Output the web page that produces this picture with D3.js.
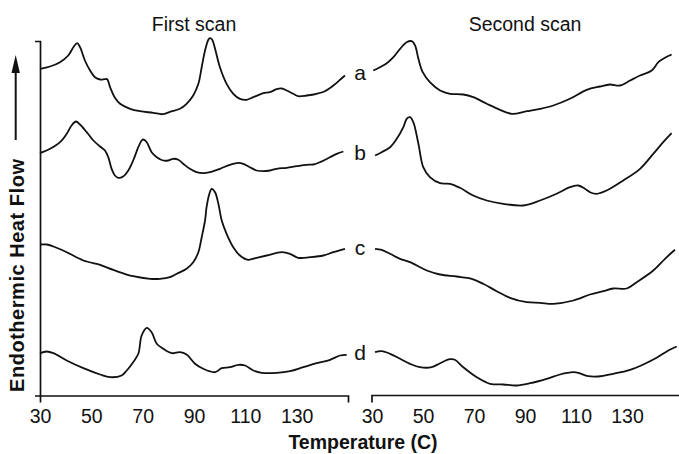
<!DOCTYPE html>
<html>
<head>
<meta charset="utf-8">
<script src="https://cdn.jsdelivr.net/npm/d3@7"></script>
<style>
  body { margin: 0; background: #fff; }
  text { font-family: "Liberation Sans", Arial, Helvetica, sans-serif; fill: #111; }
</style>
</head>
<body>
<div id="chart"></div>
<script>
// tick labels
const tickTemps = [30, 50, 70, 90, 110, 130]
const scanTitles = ["First scan", "Second scan"]
const sampleLabels = ["a", "b", "c", "d"]

// [temperature (C), heat flow (arbitrary units, stacked)]
const firstA = [[30,326.7],[33.9,329],[37.8,333.3],[41,340],[43.2,349],[44.5,352.3],[45.6,348.3],[47.5,335],[49.5,325],[51.4,318.3],[53.4,316],[55.3,316.3],[56.2,316.3],[57.3,308.3],[59.2,297.7],[61.2,291.7],[65.1,286.7],[69,284.3],[74.1,282.7],[77.8,281.3],[80.6,283.7],[84.5,286.7],[87.1,291.7],[89.7,300],[91.7,311.7],[93,328.3],[94.3,345],[95.6,355.7],[96.2,357.3],[97.1,355.7],[98.2,346.7],[100.1,328.3],[102.7,311.7],[105.3,301.7],[107.9,296.7],[110.5,295.7],[113.1,298.3],[117,302.3],[119.6,303.3],[122.2,306.3],[124.2,307],[126.1,305],[128.7,301.7],[130.6,299.3],[133.9,300],[137.8,301.7],[141,304.3],[144.3,310],[146.9,315.7],[148.8,320]]
const firstB = [[30,242.3],[33.9,246.7],[37.8,253.3],[40.4,261.7],[42.3,270],[44,274],[45.6,271],[48.2,263.3],[50.8,255],[53.4,249],[55.3,245],[56.6,238.3],[57.9,226.7],[59.2,220],[60.5,217.7],[62.4,219],[64.4,225],[66.3,235],[68.3,248.3],[69.6,255],[70.2,256],[71.6,253.3],[73.5,243.3],[75.5,238.3],[78,235],[80,235],[81.9,236.7],[83.9,235.7],[85.8,231.7],[88.4,226.7],[91,223.3],[93.6,222.3],[96.2,223.3],[100.1,226.7],[104,230.7],[107.3,232.7],[109.2,231.7],[111.8,228.3],[114.4,225],[117,224.3],[119.6,225],[122.2,226.7],[126.1,227.7],[130,229.3],[133.9,230.7],[136.5,231],[139.1,233.3],[143,238.3],[145.6,241.7],[148.2,244]]
const firstC = [[30,151],[32.6,151],[35.2,149],[40.4,143.3],[46.9,135],[53.4,130.7],[54.7,129.3],[59.9,124.3],[66.3,119.3],[72.9,116.7],[76.7,116.7],[80.6,118.3],[83.3,121.7],[87.1,126.7],[89.7,133.3],[91.7,143.3],[93,158.3],[94.3,175],[94.9,188.3],[96,201.7],[96.9,206.7],[98.2,203.3],[99.5,191.7],[100.8,175],[102.7,161.7],[105.3,148.3],[107.9,140],[111.1,135.7],[114.4,137.7],[118.3,140],[124.2,143.3],[127.4,141.7],[130.6,137.7],[135.2,138.3],[140.4,140],[144.3,143.3],[148.8,146.7]]
const firstD = [[30,42.3],[32.6,44],[35.2,42.3],[40.4,35],[46.9,27.3],[53.4,21],[57.3,18.3],[61.8,20],[63.8,25],[66.3,33.3],[68.3,41.7],[69.6,60],[71.6,67.7],[73.5,63.3],[75.5,51.7],[78,46.7],[81.3,42.3],[84.5,43.3],[87.1,41],[90.4,31.7],[93.6,26.7],[98.2,23.3],[100.8,27.3],[104,28.3],[107.3,30.7],[109.9,30],[113.1,25],[116.4,22.7],[122.2,22.7],[127.4,24.3],[132.6,28.3],[137.8,32.3],[143,35.7],[146.9,40],[149.5,40.7]]

const secondA = [[30.5,325],[33.1,328.3],[35.8,332.3],[38.4,338.3],[41,346.7],[43.6,353.3],[45.6,354.3],[46.9,350],[48.2,336.7],[49.9,323.3],[52.7,313.3],[56.7,305],[60.6,301.7],[65.8,301],[69.7,298.3],[75,291.7],[80.2,285.7],[84.8,281.7],[90.7,284.3],[95.9,286.7],[101.1,290],[107.6,296.7],[114.2,305.7],[119.4,309],[123.3,311],[127.3,310],[131.2,315],[135.1,320],[139.7,325],[142.3,333.3],[144.9,337.7],[147.5,341]]
const secondB = [[31.2,240],[33.8,243.3],[37.1,248.3],[39.7,256.7],[42.3,268.3],[43.6,276.7],[44.9,278.3],[46.2,273.3],[48.2,251.7],[50.1,228.3],[52.7,218.3],[56.7,212.3],[60.6,211.7],[64.5,207.7],[69.7,200],[75,195],[81.5,191.7],[89.3,190],[95.9,195],[102.4,201.7],[107.6,208.3],[110.9,210],[113.5,206.7],[115.5,203.3],[118.1,201.7],[122,205],[128.5,215],[135.1,226.7],[140.3,241.7],[144.2,253.3],[147.5,262.3]]
const secondC = [[31.2,146.7],[33.8,145.7],[37.1,141.7],[41,136.7],[44.9,133.3],[51.5,125],[56.7,121],[63.2,119],[69.1,116.7],[73.6,111.7],[78.9,104.3],[84.1,97.7],[90.7,93.3],[95.9,92.7],[101.1,91.7],[109,95],[115.5,101],[120.7,104.3],[124.6,107],[129.9,107],[133.8,113.3],[140.3,125],[144.9,136.7],[148.8,145.7]]
const secondD = [[31.2,43.3],[33.8,44.3],[37.1,41.7],[41,36.7],[44.9,31.7],[48.8,28.3],[53.4,28.3],[56.7,32.3],[60.6,36.3],[62.5,35.7],[65.8,28.3],[71.1,18.3],[76.3,11.7],[81.5,11],[86.7,10],[92,12.3],[98.5,16.7],[103.7,21],[108.9,23.3],[110.9,22.7],[114.8,19.3],[118.7,19],[124.6,21.7],[131.2,25.7],[136.4,31],[141.6,37.7],[146.2,45],[149.5,49]]

const firstScan = [firstA, firstB, firstC, firstD]
const secondScan = [secondA, secondB, secondC, secondD]

const width = 679
const height = 454

const svg = d3.select("#chart")
  .append("svg")
    .attr("width", width)
    .attr("height", height)

// scales
const xFirst = d3.scaleLinear().domain([30, 150]).range([40, 348])
const xSecond = d3.scaleLinear().domain([30, 150]).range([372, 678])
const yScale = d3.scaleLinear().domain([0, 354.5]).range([395.5, 41])

const line = xScale => d3.line()
  .x(d => xScale(d[0]))
  .y(d => yScale(d[1]))
  .curve(d3.curveCatmullRom.alpha(0.5))

// curves
firstScan.forEach(s => {
  svg.append("path")
    .attr("d", line(xFirst)(s))
    .attr("fill", "none")
    .attr("stroke", "#111")
    .attr("stroke-width", 1.8)
    .attr("stroke-linejoin", "round")
})
secondScan.forEach(s => {
  svg.append("path")
    .attr("d", line(xSecond)(s))
    .attr("fill", "none")
    .attr("stroke", "#111")
    .attr("stroke-width", 1.8)
    .attr("stroke-linejoin", "round")
})

// sample labels between the panels
sampleLabels.forEach((lab, i) => {
  const l = firstScan[i][firstScan[i].length - 1]
  const r = secondScan[i][0]
  svg.append("text")
    .attr("x", 360)
    .attr("y", (yScale(l[1]) + yScale(r[1])) / 2 + 6.5)
    .attr("text-anchor", "middle")
    .style("font-size", "21px")
    .text(lab)
})

// axes
const styleAxis = g => {
  g.select(".domain").attr("stroke", "#111").attr("stroke-width", 1.7)
  g.selectAll(".tick line").remove()
  g.selectAll(".tick text")
    .attr("fill", "#111")
    .style("font-size", "19.5px")
    .style("font-family", "'Liberation Sans', Arial, Helvetica, sans-serif")
}

svg.append("g")
  .attr("transform", `translate(0, ${yScale(0)})`)
  .call(d3.axisBottom(xFirst).tickValues(tickTemps).tickSizeInner(0).tickSizeOuter(7).tickPadding(14))
  .call(styleAxis)

const axisSecond = svg.append("g")
  .attr("transform", `translate(0, ${yScale(0)})`)
  .call(d3.axisBottom(xSecond).tickValues(tickTemps).tickSizeInner(0).tickSizeOuter(7).tickPadding(14))
  .call(styleAxis)
// the second panel's axis runs off the right edge, no end tick there
axisSecond.select(".domain")
  .attr("d", `M${xSecond(30)},7V0H${width}`)

svg.append("g")
  .attr("transform", `translate(${xFirst(30)}, 0)`)
  .call(d3.axisLeft(yScale).tickValues([]).tickSizeOuter(5))
  .call(styleAxis)

// titles
svg.append("text")
  .attr("x", xFirst(90))
  .attr("y", 31)
  .attr("text-anchor", "middle")
  .style("font-size", "19.5px")
  .text(scanTitles[0])

svg.append("text")
  .attr("x", xSecond(90))
  .attr("y", 31)
  .attr("text-anchor", "middle")
  .style("font-size", "19.5px")
  .text(scanTitles[1])

svg.append("text")
  .attr("x", 363)
  .attr("y", 449)
  .attr("text-anchor", "middle")
  .attr("font-weight", 700)
  .style("font-size", "19.5px")
  .text("Temperature (C)")

svg.append("text")
  .attr("transform", "translate(23.5, 275.5) rotate(-90)")
  .attr("text-anchor", "middle")
  .attr("font-weight", 700)
  .style("font-size", "20px")
  .attr("textLength", 233)
  .attr("lengthAdjust", "spacing")
  .text("Endothermic Heat Flow")

// arrow
svg.append("line")
  .attr("x1", 15.7).attr("x2", 15.7)
  .attr("y1", 140).attr("y2", 70)
  .attr("stroke", "#111")
  .attr("stroke-width", 2)
svg.append("path")
  .attr("d", "M15.7,55 L11.5,73 L19.9,73 Z")
  .attr("fill", "#111")
</script>
</body>
</html>
